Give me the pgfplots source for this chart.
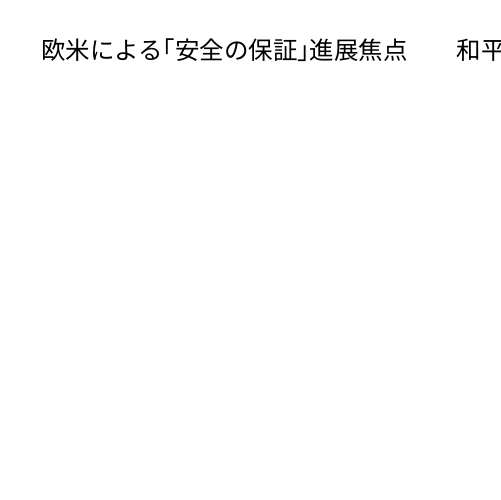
\documentclass[border=0pt]{standalone}
\usepackage{fontspec}
\usepackage{pgfplots}
\pgfplotsset{compat=1.18}
\newfontfamily\cjk{Noto Sans CJK JP}
\newcommand{\lb}{\makebox[0.5em][r]{「}}
\newcommand{\rb}{\makebox[0.5em][l]{」}}
\begin{document}
\begin{tikzpicture}[x=1bp,y=1bp]
\clip (0,0) rectangle (500,500);
\fill[white] (0,0) rectangle (500,500);
\begin{axis}[
  at={(0,0)}, anchor=origin,
  scale only axis, width=500bp, height=500bp,
  xmin=0, xmax=500, ymin=0, ymax=500,
  hide axis, clip=false
]
\node[anchor=base west, inner sep=0pt, font=\fontsize{24.5bp}{28bp}\cjk\selectfont]
  at (axis cs:41,440) {欧米による\lb 安全の保証\rb 進展焦点　　和平協議};
\end{axis}
\end{tikzpicture}
\end{document}
